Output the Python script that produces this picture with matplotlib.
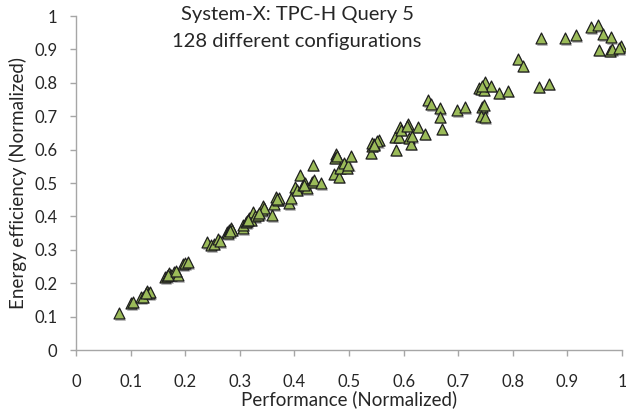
import matplotlib
matplotlib.use("Agg")
import matplotlib.pyplot as plt
import matplotlib.transforms as mtransforms

# Normalized performance vs energy efficiency, 128 configurations
performance = [
    0.079, 0.101, 0.104, 0.119, 0.122, 0.130, 0.134, 0.136, 0.163, 0.166,
    0.170, 0.174, 0.180, 0.187, 0.196, 0.200, 0.205, 0.240, 0.247, 0.252,
    0.260, 0.264, 0.277, 0.280, 0.278, 0.284, 0.286, 0.306, 0.306, 0.311,
    0.313, 0.317, 0.320, 0.324, 0.328, 0.334, 0.340, 0.342, 0.344, 0.359,
    0.363, 0.366, 0.370, 0.372, 0.390, 0.394, 0.401, 0.405, 0.410, 0.416,
    0.420, 0.423, 0.432, 0.436, 0.434, 0.449, 0.473, 0.476, 0.474, 0.478,
    0.482, 0.484, 0.491, 0.496, 0.499, 0.504, 0.540, 0.542, 0.542, 0.546,
    0.555, 0.552, 0.584, 0.586, 0.592, 0.593, 0.596, 0.608, 0.610, 0.614,
    0.616, 0.626, 0.639, 0.645, 0.650, 0.667, 0.667, 0.670, 0.698, 0.712,
    0.738, 0.742, 0.747, 0.749, 0.744, 0.747, 0.742, 0.749, 0.760, 0.775,
    0.791, 0.810, 0.819, 0.848, 0.852, 0.866, 0.896, 0.916, 0.943, 0.956,
    0.965, 0.980, 0.958, 0.978, 0.981, 0.998, 0.995, 0.128, 0.168, 0.183,
    0.282, 0.315, 0.336, 0.368, 0.418, 0.545, 0.606, 0.744,
]
efficiency = [
    0.110, 0.140, 0.143, 0.158, 0.160, 0.176, 0.170, 0.173, 0.218, 0.222,
    0.230, 0.226, 0.233, 0.224, 0.257, 0.260, 0.263, 0.322, 0.313, 0.318,
    0.331, 0.326, 0.352, 0.358, 0.349, 0.364, 0.360, 0.364, 0.375, 0.382,
    0.386, 0.394, 0.390, 0.412, 0.400, 0.405, 0.418, 0.430, 0.425, 0.403,
    0.436, 0.457, 0.450, 0.454, 0.439, 0.454, 0.487, 0.480, 0.525, 0.493,
    0.500, 0.484, 0.504, 0.510, 0.555, 0.499, 0.528, 0.588, 0.576, 0.582,
    0.519, 0.546, 0.561, 0.546, 0.555, 0.582, 0.591, 0.612, 0.621, 0.618,
    0.630, 0.625, 0.639, 0.600, 0.639, 0.669, 0.660, 0.678, 0.636, 0.618,
    0.640, 0.669, 0.648, 0.749, 0.737, 0.725, 0.699, 0.663, 0.719, 0.728,
    0.785, 0.782, 0.779, 0.803, 0.728, 0.735, 0.701, 0.698, 0.791, 0.770,
    0.776, 0.872, 0.851, 0.788, 0.934, 0.797, 0.934, 0.943, 0.967, 0.973,
    0.946, 0.937, 0.899, 0.896, 0.901, 0.910, 0.904, 0.172, 0.226, 0.236,
    0.356, 0.390, 0.410, 0.452, 0.495, 0.615, 0.672, 0.790,
]
ticks = [0, 0.1, 0.2, 0.3, 0.4, 0.5, 0.6, 0.7, 0.8, 0.9, 1]
tick_labels = ["0", "0.1", "0.2", "0.3", "0.4", "0.5", "0.6", "0.7", "0.8", "0.9", "1"]
title_lines = ["System-X: TPC-H Query 5", "128 different configurations"]

plt.rcParams["font.family"] = ["Lato", "DejaVu Sans"]
text_color = "#262626"
axis_color = "#a6a6a6"

fig = plt.figure(figsize=(6.26, 4.15), dpi=100)
ax = fig.add_axes([76 / 626, 65 / 415, 546 / 626, 334 / 415])

# soft drop shadow under each marker, like the spreadsheet original
shadow = mtransforms.offset_copy(ax.transData, fig=fig, x=0.8, y=-1.2, units="points")
ax.scatter(performance, efficiency, marker="^", s=62, color="#7f7f7f", alpha=0.55,
           linewidths=0, transform=shadow, clip_on=False, zorder=2)
ax.scatter(performance, efficiency, marker="^", s=62, facecolor="#9bbb59",
           edgecolor="#1f1f1f", linewidths=0.9, clip_on=False, zorder=3)

ax.set_xlim(0, 1)
ax.set_ylim(0, 1)
ax.set_xticks(ticks)
ax.set_xticklabels(tick_labels)
ax.set_yticks(ticks)
ax.set_yticklabels(tick_labels)

for side in ["top", "right"]:
    ax.spines[side].set_visible(False)
for side in ["left", "bottom"]:
    ax.spines[side].set_color(axis_color)
    ax.spines[side].set_linewidth(1.0)

ax.tick_params(axis="x", direction="out", length=4.5, width=1.0, color=axis_color,
               labelsize=12, labelcolor=text_color, pad=13)
ax.tick_params(axis="y", direction="out", length=4.5, width=1.0, color=axis_color,
               labelsize=12, labelcolor=text_color, pad=9)

ax.set_xlabel("Performance (Normalized)", fontsize=13.5, color=text_color, labelpad=0)
ax.set_ylabel("Energy efficiency (Normalized)", fontsize=13.5, color=text_color, labelpad=5)

ax.text(0.405, 1.005, title_lines[0], transform=ax.transAxes, ha="center", va="center",
        fontsize=14.5, color=text_color)
ax.text(0.405, 0.925, title_lines[1], transform=ax.transAxes, ha="center", va="center",
        fontsize=14.5, color=text_color)

fig.savefig("out.png", dpi=100)
